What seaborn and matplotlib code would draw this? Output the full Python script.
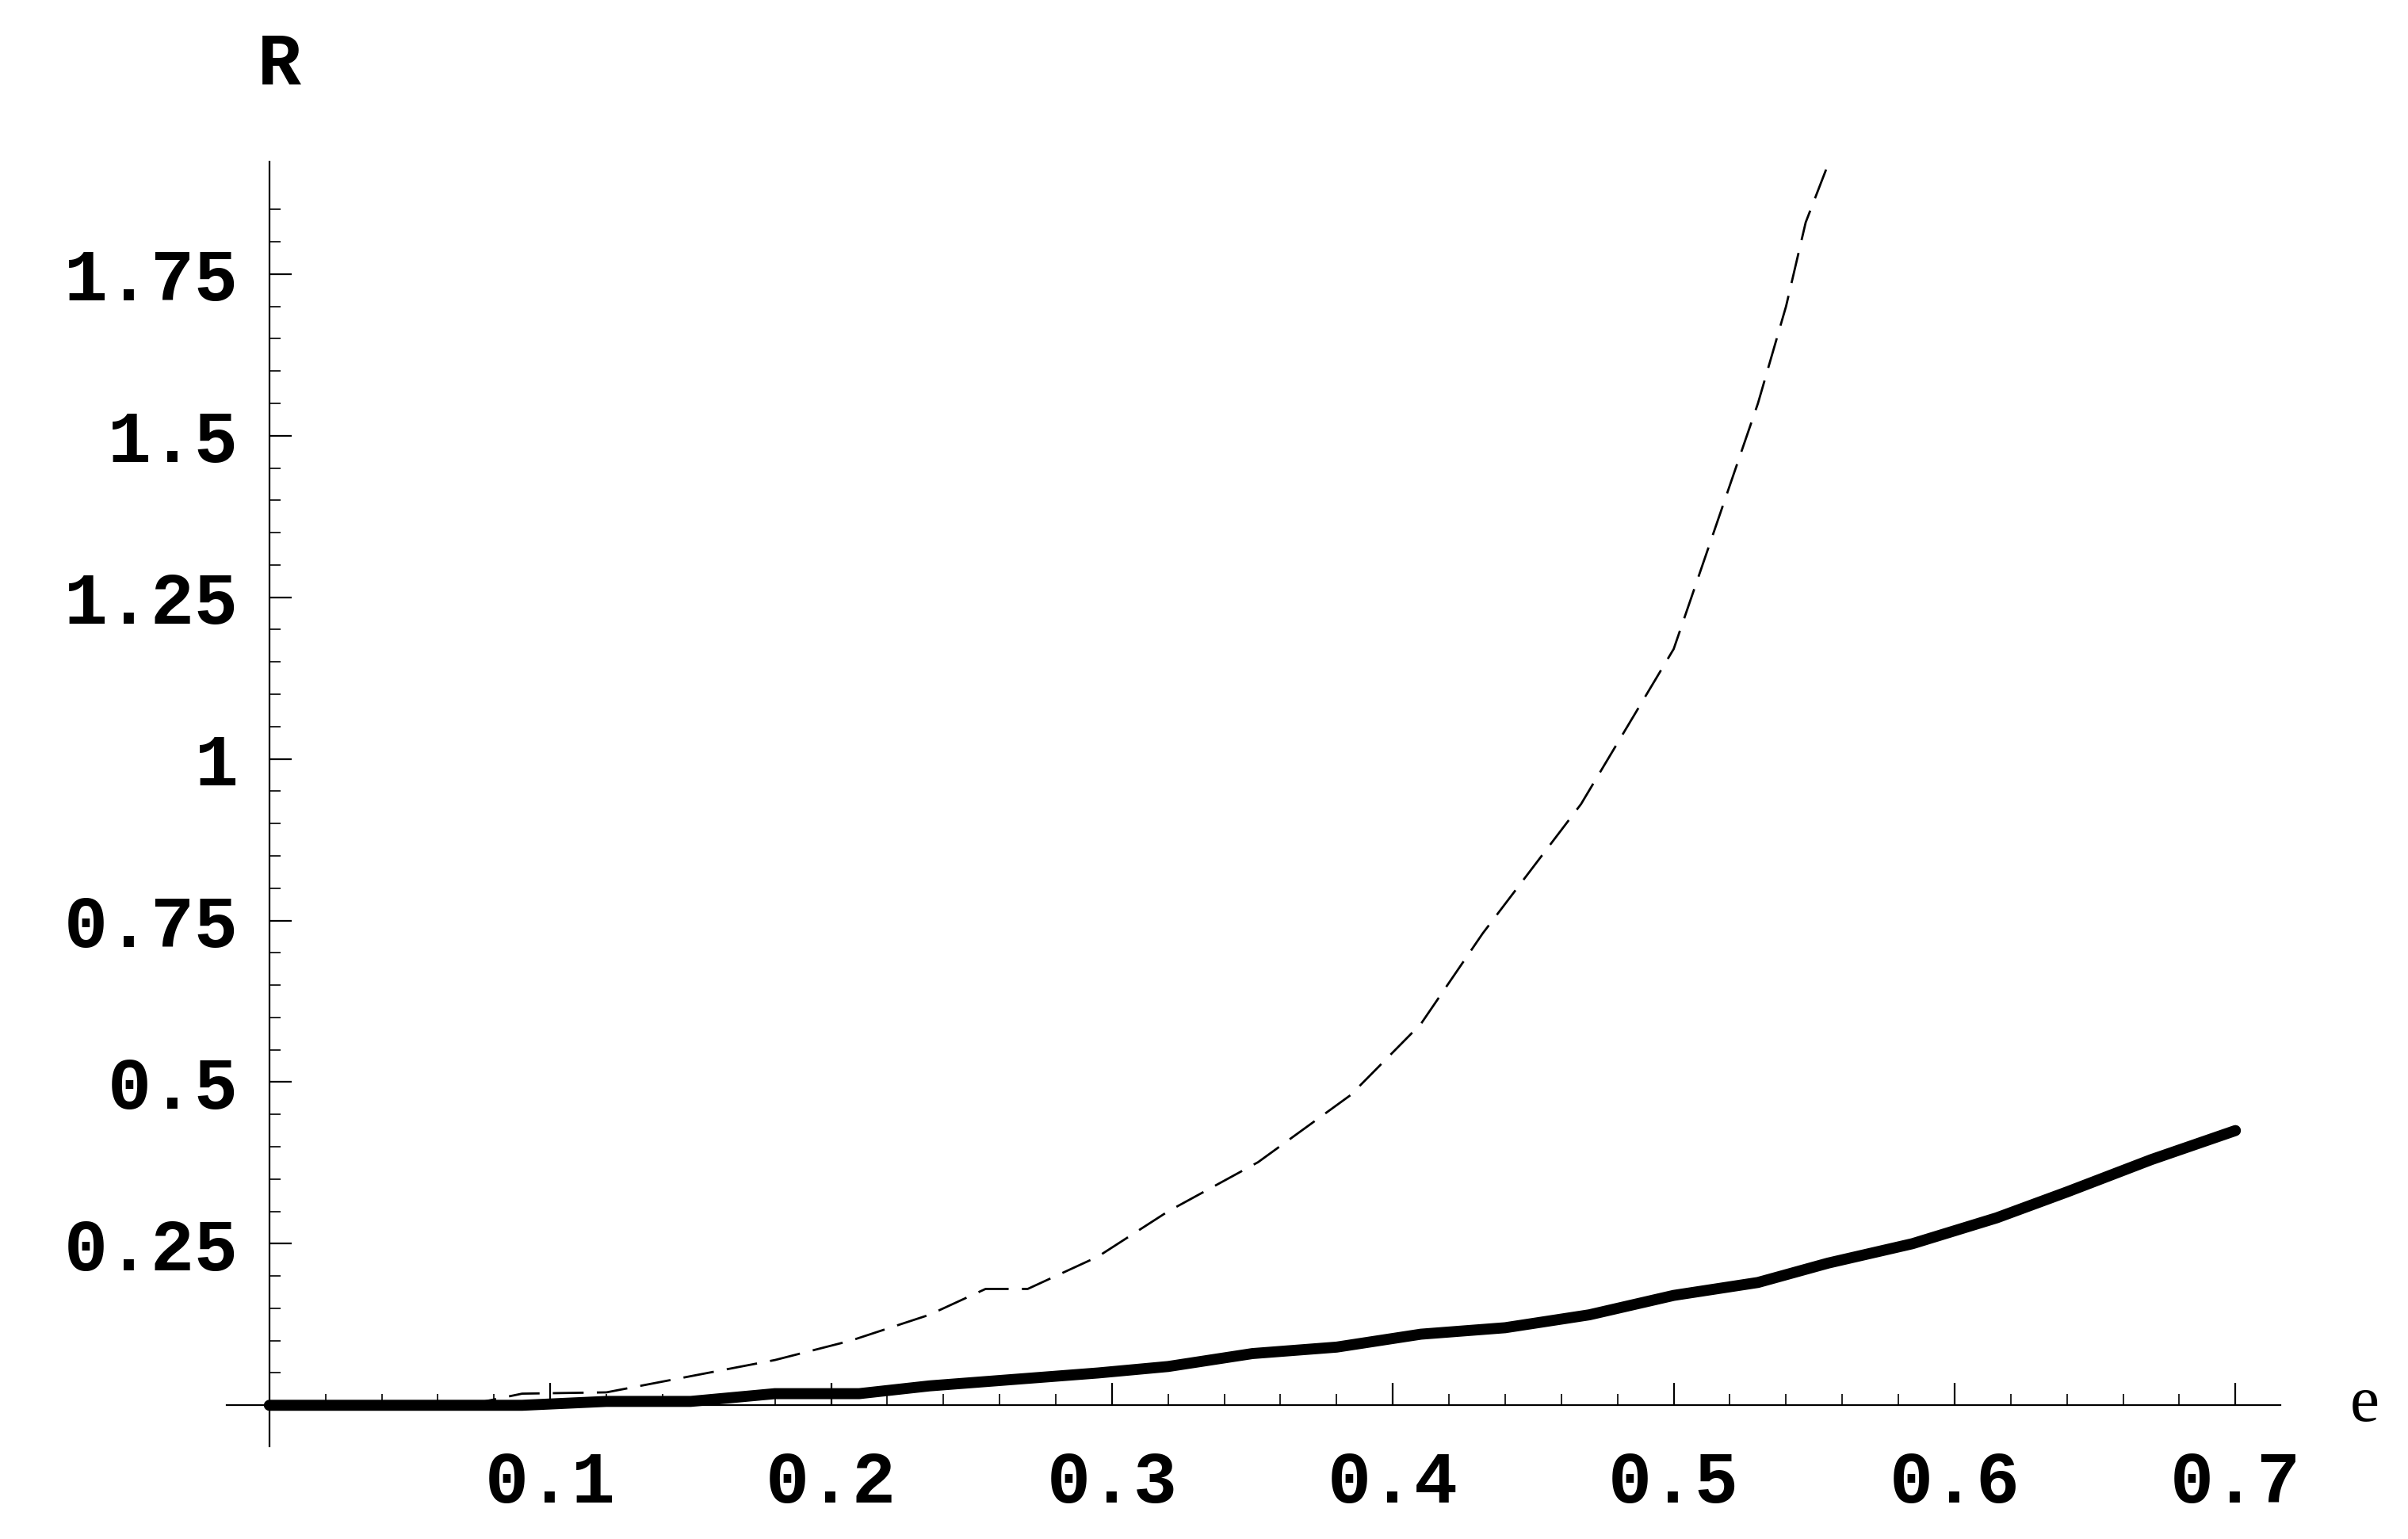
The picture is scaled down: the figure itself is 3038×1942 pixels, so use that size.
import matplotlib
matplotlib.use("Agg")
import matplotlib.pyplot as plt
import seaborn as sns
import numpy as np

# solid curve
solid_e = [0.0, 0.03, 0.06, 0.09, 0.12, 0.15, 0.18, 0.21, 0.235, 0.265, 0.295, 0.32, 0.35,
           0.38, 0.41, 0.44, 0.47, 0.5, 0.53, 0.555, 0.585, 0.615, 0.64, 0.67, 0.7]
solid_r = [0.0, 0.0, 0.0, 0.0, 0.006, 0.006, 0.018, 0.018, 0.03, 0.04, 0.05, 0.06, 0.08,
           0.09, 0.11, 0.12, 0.14, 0.17, 0.19, 0.22, 0.25, 0.29, 0.33, 0.38, 0.425]
# dashed curve
dash_e = [0.07, 0.09, 0.12, 0.15, 0.18, 0.207, 0.235, 0.255, 0.27, 0.295, 0.32, 0.352,
          0.385, 0.41, 0.432, 0.467, 0.5, 0.53, 0.54, 0.547, 0.555]
dash_r = [0.0, 0.018, 0.02, 0.045, 0.07, 0.10, 0.14, 0.18, 0.18, 0.23, 0.30, 0.376,
          0.48, 0.59, 0.73, 0.93, 1.17, 1.55, 1.70, 1.83, 1.92]

x_ticks = [0.1, 0.2, 0.3, 0.4, 0.5, 0.6, 0.7]
y_ticks = [0.25, 0.5, 0.75, 1.0, 1.25, 1.5, 1.75]
y_labels = ["0.25", "0.5", "0.75", "1", "1.25", "1.5", "1.75"]

sns.set_style("white")
fig = plt.figure(figsize=(15.19, 9.71), dpi=200)
ax = fig.add_axes([0.094, 0.06, 0.853, 0.835])

sns.lineplot(x=dash_e, y=dash_r, ax=ax, color="black", lw=1.0,
             linestyle=(0, (14, 6)), sort=False)
sns.lineplot(x=solid_e, y=solid_r, ax=ax, color="black", lw=5, sort=False)

ax.set_xlim(-0.0153, 0.716)
ax.set_ylim(-0.064, 1.924)
for s in ["top", "right"]:
    ax.spines[s].set_visible(False)
ax.spines["left"].set_position(("data", 0))
ax.spines["bottom"].set_position(("data", 0))
for s in ["left", "bottom"]:
    ax.spines[s].set_linewidth(0.8)
    ax.spines[s].set_color("black")

font = dict(family="Liberation Mono", weight="bold", size=33, color="black")
ax.set_xticks(x_ticks)
ax.set_xticklabels([str(t) for t in x_ticks], **font)
ax.set_yticks(y_ticks)
ax.set_yticklabels(y_labels, **font)
ax.set_xticks(np.arange(0.02, 0.7, 0.02), minor=True)
ax.set_yticks(np.arange(0.05, 1.9, 0.05), minor=True)
ax.tick_params(axis="both", which="both", bottom=True, left=True, direction="in",
               color="black")
ax.tick_params(axis="x", which="major", length=10, width=0.8, pad=20)
ax.tick_params(axis="x", which="minor", length=5, width=0.6)
ax.tick_params(axis="y", which="major", length=10, width=0.8, pad=14)
ax.tick_params(axis="y", which="minor", length=5, width=0.6)

fig.text(0.116, 0.958, "R", ha="center", va="center", **font)
fig.text(0.982, 0.087, "e", ha="center", va="center", family="Liberation Serif",
         size=30, color="black")

fig.savefig("out.png", dpi=200)
